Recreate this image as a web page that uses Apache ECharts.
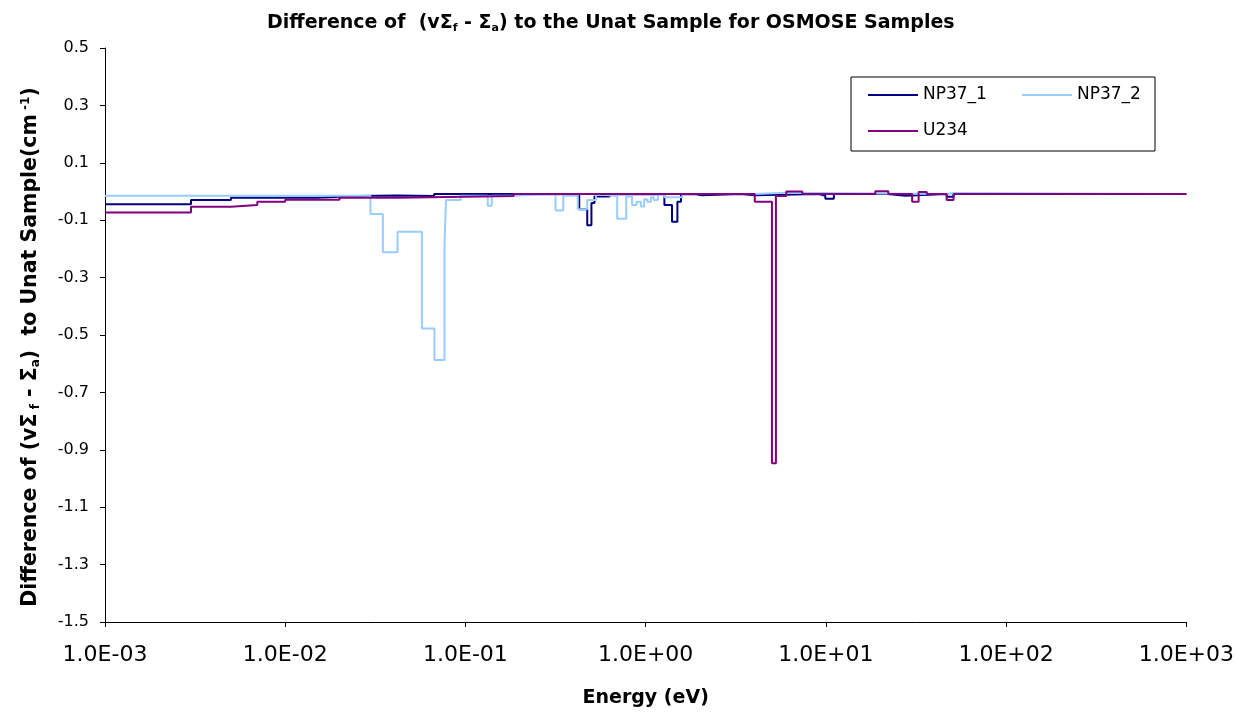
<!DOCTYPE html>
<html><head><meta charset="utf-8">
<script src="https://cdn.jsdelivr.net/npm/echarts@6/dist/echarts.min.js"></script>
<style>html,body{margin:0;padding:0;background:#fff}#c{width:1237px;height:717px}</style>
</head><body><div id="c"></div>
<script>
// Group boundaries (eV) and group values (cm^-1); each E array has one more entry than its V array
const np371E = [0.001, 0.003, 0.005, 0.015, 0.025, 0.042, 0.067, 0.158, 0.428, 0.474, 0.50, 0.52, 0.63, 1.27, 1.40, 1.50, 1.57, 1.91, 2.03, 3.38, 4.03, 9.15, 9.93, 11.07, 22.0, 27.6, 46.8, 51.1, 1000];
const np371V = [-0.044, -0.030, -0.022, -0.016, -0.014, -0.016, -0.009, -0.010, -0.062, -0.118, -0.040, -0.017, -0.010, -0.047, -0.105, -0.036, -0.010, -0.013, -0.009, -0.013, -0.009, -0.015, -0.025, -0.009, -0.015, -0.009, -0.018, -0.009];

const np372E = [0.001, 0.0297, 0.0348, 0.042, 0.0573, 0.0673, 0.0765, 0.078, 0.094, 0.133, 0.140, 0.185, 0.316, 0.349, 0.42, 0.474, 0.53, 0.60, 0.695, 0.78, 0.84, 0.89, 0.94, 0.98, 1.02, 1.07, 1.11, 1.17, 1.27, 1.6, 4.03, 6.03, 46.8, 51.1, 1000];
const np372V = [-0.015, -0.078, -0.212, -0.140, -0.477, -0.587, -0.184, -0.030, -0.015, -0.050, -0.015, -0.009, -0.066, -0.015, -0.062, -0.030, -0.012, -0.016, -0.095, -0.017, -0.047, -0.036, -0.052, -0.027, -0.036, -0.020, -0.030, -0.012, -0.020, -0.009, -0.004, -0.009, -0.005, -0.009];

const u234E = [0.001, 0.003, 0.005, 0.007, 0.01, 0.02, 0.042, 0.185, 4.03, 5.02, 5.28, 6.03, 7.39, 18.8, 22.2, 30.1, 32.7, 36.3, 46.8, 51.1, 1000];
const u234V = [-0.073, -0.053, -0.047, -0.036, -0.029, -0.022, -0.016, -0.009, -0.036, -0.947, -0.016, 0.000, -0.009, 0.001, -0.009, -0.036, -0.002, -0.009, -0.030, -0.009];

const seriesNames = ['NP37_1', 'NP37_2', 'U234'];
const seriesColors = ['#000080', '#99CCFF', '#800080'];

function pairs(E, V) {
  const d = V.map((v, i) => [E[i], v]);
  d.push([E[E.length - 1], V[V.length - 1]]);
  return d;
}
function fmtE(v) {
  const e = Math.round(Math.log10(v));
  const m = v / Math.pow(10, e);
  return m.toFixed(1) + 'E' + (e < 0 ? '-' : '+') + String(Math.abs(e)).padStart(2, '0');
}

const FONT = 'DejaVu Sans';
const chart = echarts.init(document.getElementById('c'));
const data = [pairs(np371E, np371V), pairs(np372E, np372V), pairs(u234E, u234V)];

chart.setOption({
  animation: false,
  backgroundColor: '#fff',
  title: {
    text: 'Difference of  (vΣ{s|f} - Σ{s|a}) to the Unat Sample for OSMOSE Samples',
    left: 262, top: 8,
    textStyle: {
      fontFamily: FONT, fontWeight: 'bold', fontSize: 19, color: '#000',
      rich: { s: { fontFamily: FONT, fontWeight: 'bold', fontSize: 11, color: '#000', padding: [10, 0, 0, 0] } }
    }
  },
  legend: {
    left: 851, top: 77, width: 312,
    padding: [6, 14, 8, 17],
    itemGap: 12,
    itemWidth: 50, itemHeight: 2,
    icon: 'rect',
    borderColor: '#000', borderWidth: 1,
    textStyle: { fontFamily: FONT, fontSize: 17, color: '#000', width: 87, lineHeight: 24 },
    data: [
      { name: 'NP37_1' },
      { name: 'NP37_2', textStyle: { width: 64 } },
      { name: 'U234' }
    ]
  },
  grid: { left: 105, right: 49, top: 48, bottom: 95, containLabel: false },
  xAxis: {
    type: 'log', logBase: 10, min: 0.001, max: 1000,
    axisLine: { onZero: false, lineStyle: { color: '#000', width: 1 } },
    axisTick: { show: true, length: 5, lineStyle: { color: '#000' } },
    minorTick: { show: false },
    splitLine: { show: false },
    axisLabel: { formatter: fmtE, fontFamily: FONT, fontSize: 22, color: '#000', margin: 22, showMinLabel: true, showMaxLabel: true },
    name: 'Energy (eV)', nameLocation: 'middle', nameGap: 67,
    nameTextStyle: { fontFamily: FONT, fontWeight: 'bold', fontSize: 19, color: '#000' }
  },
  yAxis: {
    type: 'value', min: -1.5, max: 0.5, interval: 0.2,
    axisLine: { show: true, onZero: false, lineStyle: { color: '#000', width: 1 } },
    axisTick: { show: true, length: 5, lineStyle: { color: '#000' } },
    splitLine: { show: false },
    axisLabel: { formatter: v => v.toFixed(1), fontFamily: FONT, fontSize: 16, color: '#000', margin: 16 },
    name: 'Difference of (vΣ{s| f} - Σ{s|a})  to Unat Sample(cm{p| -1})',
    nameLocation: 'middle', nameRotate: 90, nameGap: 63,
    nameTextStyle: {
      fontFamily: FONT, fontWeight: 'bold', fontSize: 20.5, color: '#000', padding: [0, 24, 0, 0],
      rich: {
        s: { fontFamily: FONT, fontWeight: 'bold', fontSize: 12, color: '#000', padding: [10, 0, 0, 0] },
        p: { fontFamily: FONT, fontWeight: 'bold', fontSize: 12, color: '#000', padding: [0, 0, 10, 0] }
      }
    }
  },
  series: seriesNames.map((n, i) => ({
    name: n, type: 'line', step: 'end', data: data[i],
    showSymbol: false, symbol: 'none',
    color: seriesColors[i],
    lineStyle: { color: seriesColors[i], width: 2 }
  }))
});
</script>
</body></html>
